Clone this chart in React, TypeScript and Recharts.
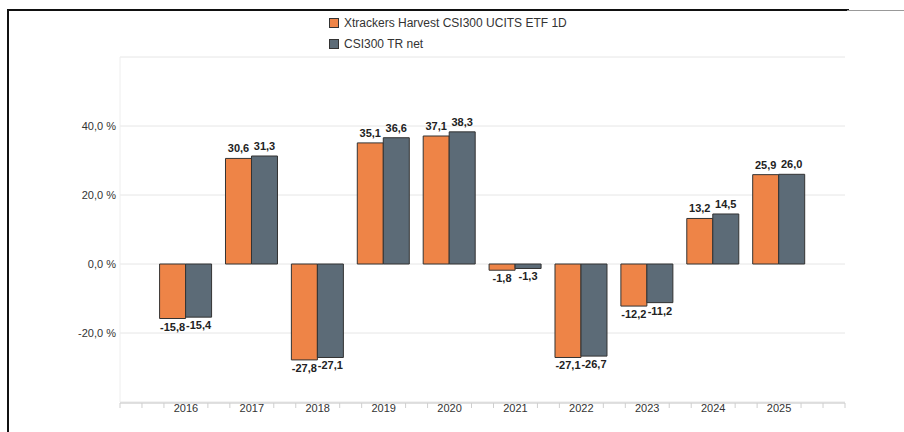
import React from 'react';
import { BarChart, Bar, XAxis, YAxis, CartesianGrid, Legend, LabelList } from 'recharts';

const years = ['2016', '2017', '2018', '2019', '2020', '2021', '2022', '2023', '2024', '2025'];
const etfValues = [-15.8, 30.6, -27.8, 35.1, 37.1, -1.8, -27.1, -12.2, 13.2, 25.9];
const indexValues = [-15.4, 31.3, -27.1, 36.6, 38.3, -1.3, -26.7, -11.2, 14.5, 26.0];
const yTicks = [-40, -20, 0, 20, 40, 60];
const yLabelled = [-20, 0, 20, 40];
const frameTicks = [-1, -2 / 3, -1 / 3, 1 / 3, 2 / 3, 4 / 3, 5 / 3, 7 / 3, 8 / 3, 10 / 3, 11 / 3, 13 / 3, 14 / 3, 16 / 3, 17 / 3, 19 / 3, 20 / 3, 22 / 3, 23 / 3, 25 / 3, 26 / 3, 28 / 3, 29 / 3, 10];
const seriesNames = ['Xtrackers Harvest CSI300 UCITS ETF 1D', 'CSI300 TR net'];
const seriesColors = ['#EE8447', '#5C6B77'];

const data = years.map((year, i) => ({ year, slot: i, etf: etfValues[i], index: indexValues[i] }));

const FONT = '"Liberation Sans", Arial, Helvetica, sans-serif';

const fmt = (v: number) => v.toFixed(1).replace('.', ',');

const renderLabel = (props: any) => {
  const { x, y, width, height, value } = props;
  const top = Math.min(y, y + height);
  const bottom = Math.max(y, y + height);
  const neg = value < 0;
  return (
    <text
      x={x + width / 2}
      y={neg ? bottom + 12 : top - 6}
      textAnchor="middle"
      fontSize={11}
      fontWeight="bold"
      fill="#222"
      fontFamily={FONT}
    >
      {fmt(value)}
    </text>
  );
};

const LegendContent = () => (
  <div style={{ fontFamily: FONT, fontSize: 12, color: '#333' }}>
    {seriesNames.map((name, i) => (
      <div key={name} style={{ display: 'flex', alignItems: 'center', height: 21 }}>
        <span
          style={{
            display: 'inline-block',
            width: 8,
            height: 8,
            background: seriesColors[i],
            border: '1px solid #333',
            marginRight: 5,
          }}
        />
        <span>{name}</span>
      </div>
    ))}
  </div>
);

export default function App() {
  return (
    <div style={{ position: 'absolute', left: 0, top: 0, width: 904, height: 432, background: '#fff', overflow: 'hidden' }}>
      <div style={{ position: 'absolute', left: 7, top: 9, width: 840, height: 430, borderTop: '2px solid #111', borderLeft: '2px solid #111' }} />
      <div style={{ position: 'absolute', left: 847, top: 10, width: 57, height: 0, borderTop: '1px solid #999' }} />
      <BarChart
        width={904}
        height={432}
        data={data}
        margin={{ top: 57, right: 59, left: 0, bottom: 0 }}
        barCategoryGap="10%"
        barGap={0}
        style={{ position: 'absolute', left: 0, top: 0 }}
      >
        <CartesianGrid vertical={false} stroke="#e6e6e6" xAxisId="cat" yAxisId="y" />
        <XAxis
          xAxisId="frame"
          type="number"
          dataKey="slot"
          domain={[-1, 10]}
          ticks={frameTicks}
          interval={0}
          allowDataOverflow
          allowDecimals
          padding={{ left: 0, right: 0 }}
          height={29}
          tickSize={5}
          tickFormatter={() => ''}
          axisLine={{ stroke: '#d6d6d6', strokeWidth: 1.5 }}
          tickLine={{ stroke: '#cfcfcf' }}
        />
        <XAxis
          xAxisId="cat"
          dataKey="year"
          height={1}
          padding={{ left: 33, right: 33 }}
          axisLine={false}
          tickLine={false}
          tickSize={0}
          tickMargin={2}
          interval={0}
          tick={{ fontSize: 11, fill: '#333', fontFamily: FONT }}
        />
        <YAxis
          yAxisId="y"
          width={120}
          domain={[-40, 60]}
          ticks={yTicks}
          interval={0}
          tickSize={0}
          tickMargin={4}
          axisLine={{ stroke: '#eeeeee' }}
          tickLine={false}
          tickFormatter={(v: number) => (yLabelled.includes(v) ? `${fmt(v)} %` : '')}
          tick={{ fontSize: 11, fill: '#333', fontFamily: FONT }}
        />
        <Legend
          layout="vertical"
          verticalAlign="middle"
          align="center"
          content={<LegendContent />}
          wrapperStyle={{ top: 12, left: 329, width: 300, height: 42 }}
        />
        <Bar
          dataKey="etf"
          name={seriesNames[0]}
          fill={seriesColors[0]}
          stroke="#333"
          strokeWidth={1}
          xAxisId="cat"
          yAxisId="y"
          isAnimationActive={false}
        >
          <LabelList dataKey="etf" content={renderLabel} />
        </Bar>
        <Bar
          dataKey="index"
          name={seriesNames[1]}
          fill={seriesColors[1]}
          stroke="#333"
          strokeWidth={1}
          xAxisId="cat"
          yAxisId="y"
          isAnimationActive={false}
        >
          <LabelList dataKey="index" content={renderLabel} />
        </Bar>
      </BarChart>
    </div>
  );
}
